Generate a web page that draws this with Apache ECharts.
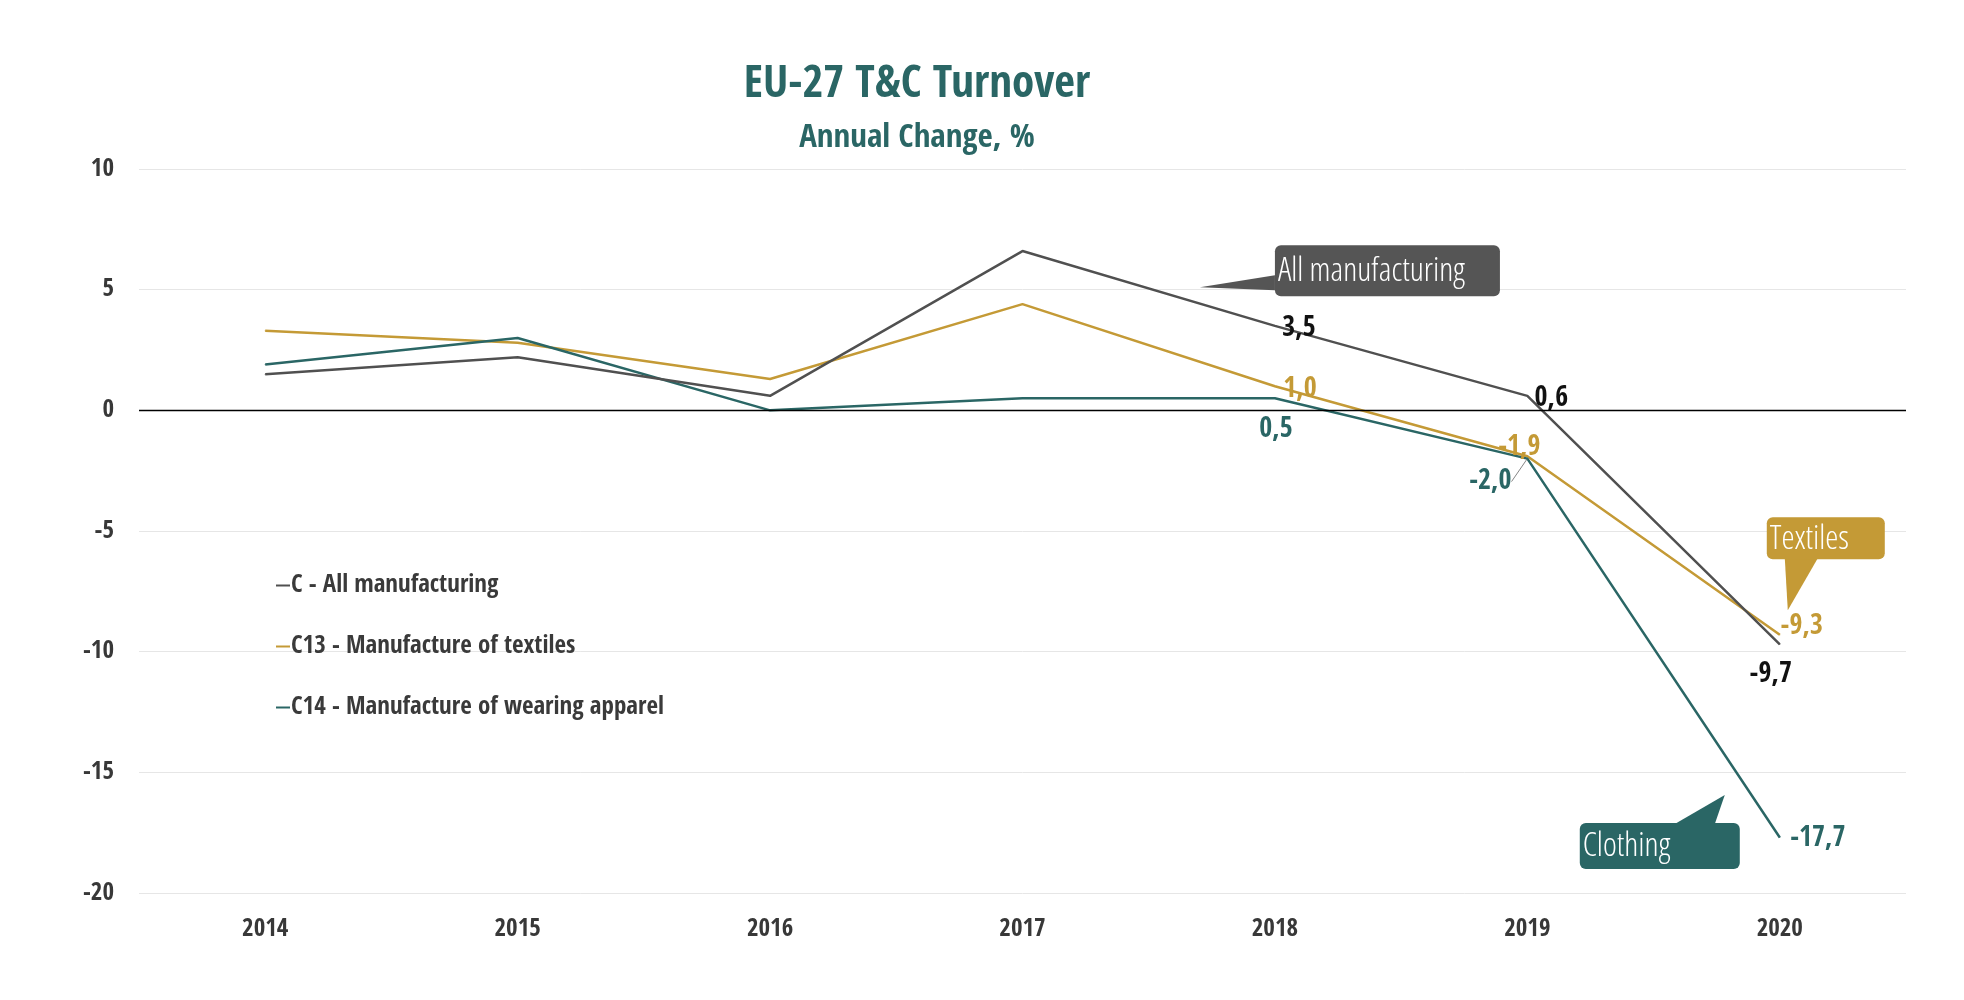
<!DOCTYPE html>
<html><head><meta charset="utf-8">
<script src="https://cdn.jsdelivr.net/npm/echarts@6/dist/echarts.min.js"></script>
<style>html,body{margin:0;padding:0;background:#fff}#c{width:1964px;height:1000px}</style>
</head><body><div id="c"></div>
<script>
const years = ['2014','2015','2016','2017','2018','2019','2020'];
const allManufacturing = [1.5, 2.2, 0.6, 6.6, 3.5, 0.6, -9.7];
const textiles = [3.3, 2.8, 1.3, 4.4, 1.0, -1.9, -9.3];
const clothing = [1.9, 3.0, 0.0, 0.5, 0.5, -2.0, -17.7];
const seriesNames = ['C - All manufacturing', 'C13 - Manufacture of textiles', 'C14 - Manufacture of wearing apparel'];
const yTicks = [-20, -15, -10, -5, 0, 5, 10];

const FONT = '"Open Sans Condensed","Open Sans",sans-serif';
const cAll = '#505050', cTex = '#C49A36', cClo = '#2A6665';

const fmt = v => v.toFixed(1).replace('.', ',');
function withLabels(values, color, offsets, leaders) {
  return values.map((v, i) => {
    const off = offsets[years[i]];
    if (!off) return v;
    const item = { value: v, label: { show: true, position: 'inside', offset: off, color: color,
      fontFamily: FONT, fontWeight: 'bold', fontSize: 28, formatter: () => fmt(v) } };
    if (leaders && leaders.indexOf(years[i]) >= 0) {
      item.labelLine = { show: true, length2: 0, smooth: false, minTurnAngle: 0,
        lineStyle: { color: '#666', width: 0.8 } };
    }
    return item;
  });
}

const chart = echarts.init(document.getElementById('c'), null, {renderer: 'canvas'});
const baseSeries = {
  type: 'line', symbol: 'circle', symbolSize: 1, lineStyle: { width: 2.5 }, label: { show: false },
  emphasis: { disabled: true }, animation: false
};
chart.setOption({
  backgroundColor: '#fff',
  title: {
    text: 'EU-27 T&C Turnover', subtext: 'Annual Change, %',
    left: 912, top: 58, textAlign: 'center', itemGap: 14,
    textStyle: { fontFamily: FONT, fontWeight: 'bold', fontSize: 45, color: '#2A6665' },
    subtextStyle: { fontFamily: FONT, fontWeight: 'bold', fontSize: 33, color: '#2A6665' }
  },
  grid: { left: 139, right: 58, top: 169, bottom: 107 },
  legend: {
    orient: 'vertical', left: 271, top: 568, itemGap: 36, icon: 'rect', itemWidth: 14, itemHeight: 2,
    textStyle: { fontFamily: FONT, fontWeight: 'bold', fontSize: 25, color: '#3a3a3a', padding: [0,0,0,-4] },
    data: seriesNames
  },
  xAxis: {
    type: 'category', data: years, boundaryGap: true,
    axisLine: { show: false }, axisTick: { show: false },
    axisLabel: { fontFamily: FONT, fontWeight: 'bold', fontSize: 25, color: '#383838', margin: 24 }
  },
  yAxis: {
    type: 'value', min: -20, max: 10, interval: 5,
    axisLine: { show: false }, axisTick: { show: false },
    axisLabel: { fontFamily: FONT, fontWeight: 'bold', fontSize: 25, color: '#383838', margin: 25 },
    splitLine: { lineStyle: { color: '#e6e6e6', width: 1 } }
  },
  series: [
    Object.assign({}, baseSeries, { name: seriesNames[0], color: cAll, z: 3,
      data: withLabels(allManufacturing, '#111', { '2018': [24, 3], '2019': [24, 3], '2020': [-9, 30] }),
      markLine: { silent: true, symbol: 'none', label: { show: false }, animation: false,
        lineStyle: { color: '#000', width: 1.3, type: 'solid' }, data: [{ yAxis: 0 }] } }),
    Object.assign({}, baseSeries, { name: seriesNames[1], color: cTex, z: 2,
      data: withLabels(textiles, cTex, { '2018': [25, 3], '2019': [-8, -8], '2020': [22, -8] }) }),
    Object.assign({}, baseSeries, { name: seriesNames[2], color: cClo, z: 2,
      data: withLabels(clothing, cClo, { '2018': [1, 31], '2019': [-37, 23], '2020': [38, 1] }, ['2019']) })
  ]
});

// callout annotations anchored to data coordinates
const callouts = [
  { text: 'All manufacturing', color: '#555555', anchor: ['2018', 6.84], dx: 0, w: 225, h: 51,
    tail: [[0, 30], [0, 45], [-75, 42]] },
  { text: 'Textiles', color: '#C49A36', anchor: ['2020', -4.43], dx: -13, w: 118, h: 42,
    tail: [[18, 41], [51, 41], [21, 93]] },
  { text: 'Clothing', color: '#2A6665', anchor: ['2020', -17.1], dx: -200, w: 160, h: 46,
    tail: [[95, 1], [135, 1], [145, -28]] }
];
const graphics = [];
callouts.forEach(c => {
  const p = chart.convertToPixel({ gridIndex: 0 }, c.anchor);
  const x = p[0] + c.dx, y = p[1];
  graphics.push({ type: 'polygon', x: x, y: y, shape: { points: c.tail }, style: { fill: c.color }, silent: true, z: 10 });
  graphics.push({ type: 'rect', x: x, y: y, shape: { width: c.w, height: c.h, r: 6 }, style: { fill: c.color }, silent: true, z: 10 });
  graphics.push({ type: 'text', x: x + 3, y: y + c.h / 2 + 1, silent: true, z: 11,
    style: { text: c.text, fill: '#fff', font: 'condensed 300 33px "Open Sans"', verticalAlign: 'middle', align: 'left' } });
});
chart.setOption({ graphic: graphics });
</script></body></html>
